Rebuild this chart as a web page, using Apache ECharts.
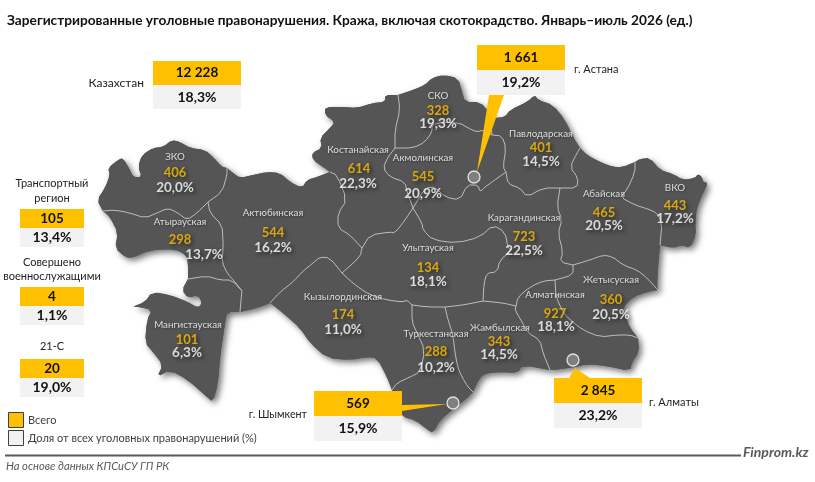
<!DOCTYPE html>
<html><head><meta charset="utf-8">
<style>html,body{margin:0;padding:0;background:#fff}#c{width:815px;height:482px}</style>
<script src="https://cdn.jsdelivr.net/npm/echarts@6/dist/echarts.min.js"></script>
</head><body><div id="c"></div>
<script>
// ---------- data ----------
const regionNames = ['ЗКО','Атырауская','Актюбинская','Костанайская','СКО','Акмолинская','Павлодарская','Абайская','ВКО','Карагандинская','Улытауская','Кызылординская','Мангистауская','Туркестанская','Жамбылская','Алматинская','Жетысуская'];
const regionTotals = [406,298,544,614,328,545,401,465,443,723,134,174,101,288,343,927,360];
const regionShares = [20.0,13.7,16.2,22.3,19.3,20.9,14.5,20.5,17.2,22.5,18.1,11.0,6.3,10.2,14.5,18.1,20.5];
const tileNames = ['Казахстан','г. Астана','г. Шымкент','г. Алматы','Транспортный регион','Совершено военнослужащими','21-С'];
const tileTotals = [12228,1661,569,2845,105,4,20];
const tileShares = [18.3,19.2,15.9,23.2,13.4,1.1,19.0];
const legendLabels = ['Всего','Доля от всех уголовных правонарушений (%)'];
const titleText = 'Зарегистрированные уголовные правонарушения. Кража, включая скотокрадство. Январь–июль 2026 (ед.)';
const sourceText = 'На основе данных КПСиСУ ГП РК';
const brandText = 'Finprom.kz';

// ---------- map outline (shared arcs of the region borders) ----------
const arcsRaw = {
 oZko:[[103,211],[97,200],[105,188],[110,175],[108,168],[118,160],[123,158],[130,170],[133,177],[142,177],[138,167],[142,155],[153,148],[163,147],[172,140],[180,142],[190,148],[205,150],[213,157],[222,167],[227,168]],
 oAkt:[[227,168],[233,173],[240,178],[253,175],[267,172],[280,173],[290,182],[302,188],[307,180],[317,177],[330,172]],
 oKos:[[330,172],[323,167],[313,160],[312,153],[322,148],[320,138],[330,128],[335,122],[325,115],[325,107],[343,107],[357,108],[373,103],[385,102],[385,95],[398,95]],
 oSko:[[398,95],[413,90],[425,85],[432,78],[443,75],[458,78],[462,92],[465,102],[480,102],[490,113],[495,118]],
 oPav:[[495,118],[505,117],[510,110],[527,102],[535,95],[538,100],[553,105],[565,120],[573,137],[580,148]],
 oAbaN:[[580,148],[587,155],[600,162],[613,167],[623,167],[635,162]],
 oVko:[[635,162],[640,159],[650,158],[660,170],[673,174],[683,180],[695,178],[698,174],[702,177],[703,182],[708,183],[703,193],[697,207],[695,222],[696,235],[690,248],[682,245],[673,248],[660,245]],
 oAbaE:[[660,245],[658,267],[657,285],[658,290]],
 oZhe:[[658,290],[647,292],[633,297],[623,307],[625,315],[630,328],[638,338]],
 oAlm:[[638,338],[639,352],[632,362],[630,371],[607,366],[587,364],[575,367],[553,370],[550,370]],
 oZha:[[550,370],[523,365],[517,373],[503,372],[487,373],[480,377],[473,392]],
 oTur:[[473,392],[465,400],[452,410],[440,420],[433,433],[428,430],[415,420],[403,417],[395,405],[392,390]],
 oKyz:[[392,390],[387,377],[377,358],[367,357],[350,360],[327,358],[310,343],[300,328],[283,313],[273,305],[270,303]],
 oAktS:[[270,303],[257,308],[240,312]],
 oMan:[[240,312],[227,312],[225,323],[220,357],[218,383],[213,402],[207,397],[188,380],[170,370],[157,377],[163,365],[153,352],[145,343],[147,320],[152,310],[140,307],[132,307],[145,302],[152,292],[170,295],[188,302],[198,308],[202,303],[198,295],[188,298],[182,290],[188,279]],
 oAty:[[188,279],[188,262],[186,255],[175,249],[150,250],[132,258],[125,257],[115,248],[118,233],[110,217],[103,211]],
 zAty:[[103,211],[115,210],[130,213],[145,218],[157,213],[168,208],[178,213],[187,220],[197,213],[208,202]],
 zAkt:[[208,202],[222,192],[227,175],[227,168]],
 atyAkt:[[208,202],[210,213],[222,225],[223,240],[223,250],[222,262],[227,273],[235,282],[242,291]],
 atyMan:[[188,279],[207,276],[220,280],[232,280],[242,291]],
 manAkt:[[242,291],[241,300],[240,312]],
 aktKyz:[[270,303],[280,292],[293,282],[302,272],[313,263],[320,257],[330,258],[342,273]],
 aktUly:[[342,273],[360,257],[362,248]],
 aktKos:[[330,172],[337,175],[347,200],[338,213],[338,228],[350,235],[362,248]],
 kosUly:[[362,248],[370,235],[390,232],[395,233],[405,220],[413,208]],
 kosAkm:[[413,208],[407,192],[405,182],[390,177],[383,168],[388,157],[395,148]],
 kosSko:[[395,148],[395,130],[400,110],[398,95]],
 skoAkm:[[395,148],[413,148],[425,142],[432,132],[432,125],[443,122],[460,123],[468,128],[477,132],[483,130],[492,135]],
 skoPav:[[492,135],[491,125],[495,118]],
 akmPav:[[492,135],[502,136],[506,148],[503,167],[506,172]],
 akmKar:[[506,172],[492,182],[485,187],[480,192],[478,185],[467,185],[460,200],[445,197],[435,187],[425,188],[413,208]],
 ulyKar:[[413,208],[422,223],[423,230],[433,240],[457,243],[480,237],[493,225],[505,232],[508,248],[512,250],[500,260],[497,272],[487,273],[484,283],[483,301]],
 ulyKyz:[[342,273],[355,285],[370,295],[387,300],[403,302],[407,300],[412,305]],
 ulyTur:[[412,305],[428,307],[445,307]],
 ulyZha:[[445,307],[463,305],[483,301]],
 kyzTur:[[412,305],[412,322],[417,333],[425,350],[420,372],[410,377],[397,383],[392,390]],
 turZha:[[445,307],[448,320],[453,335],[455,353],[458,368],[462,377],[468,387],[473,392]],
 zhaKar:[[483,301],[503,303],[516,306]],
 zhaAlm:[[516,306],[515,310],[522,322],[528,333],[540,340],[543,353],[550,370]],
 almKar:[[516,306],[518,297],[530,287],[543,281],[555,280]],
 almZhe:[[555,280],[556,297],[563,312],[570,320],[583,330],[600,337],[617,335],[630,335],[638,338]],
 zheKar:[[555,280],[573,275],[573,265]],
 zheAba:[[573,265],[590,260],[603,255],[613,257],[623,265],[637,270],[647,278],[658,290]],
 abaKar:[[573,265],[560,262],[563,252],[558,233],[562,220],[557,207],[560,188]],
 pavKar:[[506,172],[508,184],[520,188],[527,197],[543,188],[560,188]],
 pavAba:[[560,188],[577,188],[578,178],[570,167],[577,153],[580,148]],
 abaVko:[[635,162],[635,172],[627,190],[620,197],[635,205],[648,209],[657,213],[662,223],[660,245]]
};
const regionArcs = {
 'ЗКО':['oZko','-zAkt','-zAty'],
 'Актюбинская':['oAkt','aktKos','-aktUly','-aktKyz','oAktS','-manAkt','-atyAkt','zAkt'],
 'Атырауская':['zAty','atyAkt','-atyMan','oAty'],
 'Мангистауская':['atyMan','manAkt','oMan'],
 'Костанайская':['oKos','-kosSko','-kosAkm','-kosUly','-aktKos'],
 'СКО':['oSko','-skoPav','-skoAkm','kosSko'],
 'Акмолинская':['skoAkm','akmPav','akmKar','kosAkm'],
 'Павлодарская':['oPav','-pavAba','-pavKar','-akmPav','skoPav'],
 'Абайская':['oAbaN','abaVko','oAbaE','-zheAba','abaKar','pavAba'],
 'ВКО':['oVko','-abaVko'],
 'Карагандинская':['pavKar','-abaKar','-zheKar','-almKar','-zhaKar','-ulyKar','-akmKar'],
 'Улытауская':['kosUly','ulyKar','-ulyZha','-ulyTur','-ulyKyz','aktUly'],
 'Кызылординская':['aktKyz','ulyKyz','kyzTur','oKyz'],
 'Туркестанская':['ulyTur','turZha','oTur','-kyzTur'],
 'Жамбылская':['ulyZha','zhaKar','zhaAlm','oZha','-turZha'],
 'Алматинская':['almKar','almZhe','oAlm','-zhaAlm'],
 'Жетысуская':['zheKar','zheAba','oZhe','-almZhe']
};

// ---------- layout (label anchors, tiles) ----------
const labelAnchors = { // name, total, share
 'ЗКО':[[175,157],[175,173],[175,188]],
 'Атырауская':[[180,222],[180,240],[204,255]],
 'Актюбинская':[[273,213],[273,233],[273,248]],
 'Костанайская':[[358,150],[359,169],[358,184]],
 'СКО':[[438,96],[438,111],[438,124]],
 'Акмолинская':[[423,158],[423,177],[423,194]],
 'Павлодарская':[[541,134],[541,148],[541,162]],
 'Абайская':[[604,194],[604,213],[604,226]],
 'ВКО':[[675,188],[675,206],[675,219]],
 'Карагандинская':[[524,218],[524,237],[524,251]],
 'Улытауская':[[428,248],[428,268],[428,282]],
 'Кызылординская':[[343,297],[343,315],[343,330]],
 'Мангистауская':[[188,325],[187,340],[187,353]],
 'Туркестанская':[[436,334],[436,352],[436,368]],
 'Жамбылская':[[500,328],[499,342],[499,355]],
 'Алматинская':[[555,295],[555,314],[556,327]],
 'Жетысуская':[[611,280],[611,300],[611,315]]
};
const tileBoxes = [[153,61,88,24,24],[477,45,88,25,25],[314,391,88,25,25],[554,378,88,25,25],[20,209,64,19,19],[20,287,64,19,19],[20,359,64,19,19]];
const cityPoints = [[474,177],[453,403],[573,360]];
const callouts = [[[489,95],[504,95],[477,172]],[[402,405],[447,404],[402,411]],[[569,378],[575,368],[590,378]]];

// ---------- helpers ----------
const FONT = 'Lato, "Noto Sans", sans-serif';
const GOLD='#FFC000', PALE='#F2F2F2', LAND='#555555';
const fmtTotal = v => String(v).replace(/\B(?=(\d{3})+$)/g,' ');
const fmtShare = v => v.toFixed(1).replace('.',',')+'%';
// round the corners of the hand-traced borders, keeping the junction points fixed
const roundCorners = pts => { if(pts.length<3) return pts; const out=[pts[0]];
 for(let i=0;i<pts.length-1;i++){ const a=pts[i],b=pts[i+1];
  if(i>0) out.push([a[0]*.75+b[0]*.25,a[1]*.75+b[1]*.25]);
  if(i<pts.length-2) out.push([a[0]*.25+b[0]*.75,a[1]*.25+b[1]*.75]); }
 out.push(pts[pts.length-1]); return out; };
const arcs = Object.fromEntries(Object.entries(arcsRaw).map(([k,v])=>[k,roundCorners(v)]));
const arcPts = k => k[0]==='-' ? arcs[k.slice(1)].slice().reverse() : arcs[k];
const ring = names => { const r=[]; names.forEach(n=>{ const p=arcPts(n); r.push(...(r.length?p.slice(1):p)); }); return r; };
const geoJson = {type:'FeatureCollection',features:Object.keys(regionArcs).map(n=>({type:'Feature',properties:{name:n},geometry:{type:'Polygon',coordinates:[ring(regionArcs[n])]}}))};
echarts.registerMap('kz', geoJson);
const innerKeys = Object.keys(arcs).filter(k=>!/^o[A-Z]/.test(k));
const flat = {project:p=>p, unproject:p=>p};
const view = {map:'kz',projection:flat,boundingCoords:[[0,0],[815,482]],left:0,top:0,width:815,height:482,roam:false,silent:true};

const txt=(text,x,y,o={})=>({type:'text',z:o.z||50,silent:true,style:{text,x,y,font:(o.bold?'bold ':'')+(o.italic?'italic ':'')+(o.size||12)+'px '+FONT,fill:o.fill||'#262626',textAlign:o.align||'left',textVerticalAlign:'middle'}});
const rect=(x,y,w,h,fill,o={})=>({type:'rect',z:o.z||40,silent:true,shape:{x,y,width:w,height:h},style:{fill,stroke:o.stroke||null,lineWidth:o.lw||0}});

const gfx=[];
callouts.forEach(p=>gfx.push({type:'polygon',z:30,silent:true,shape:{points:p},style:{fill:GOLD}}));
tileBoxes.forEach((b,i)=>{
 const [x,y,w,h1,h2]=b;
 gfx.push(rect(x,y,w,h1,GOLD),rect(x,y+h1,w,h2,PALE));
 gfx.push(txt(fmtTotal(tileTotals[i]),x+w/2,y+h1/2,{bold:true,size:13.5,align:'center',fill:'#111'}));
 gfx.push(txt(fmtShare(tileShares[i]),x+w/2,y+h1+h2/2,{bold:true,size:14,align:'center',fill:'#111'}));
});
const L={size:11,fill:'#222'};
gfx.push(txt(tileNames[0],144,83,{...L,size:12,align:'right'}));
gfx.push(txt(tileNames[1],574,69,L));
gfx.push(txt(tileNames[2],307,415,{...L,size:10.7,align:'right'}));
gfx.push(txt(tileNames[3],649,402,L));
const tn4=tileNames[4].split(' '), tn5=tileNames[5].split(' ');
gfx.push(txt(tn4[0],52,183,{...L,align:'center'}),txt(tn4[1],52,198,{...L,align:'center'}));
gfx.push(txt(tn5[0],52,262,{...L,align:'center'}),txt(tn5[1],52,276,{...L,align:'center'}));
gfx.push(txt(tileNames[6],52,346,{...L,align:'center'}));
gfx.push(txt(titleText,7,21,{bold:true,size:13.7,fill:'#111'}));
gfx.push(rect(8.5,412.5,15,15,GOLD,{stroke:'#404040',lw:1}),rect(8.5,430.5,15,15,PALE,{stroke:'#404040',lw:1}));
gfx.push(txt(legendLabels[0],28,420,{size:11,fill:'#404040'}),txt(legendLabels[1],28,438,{size:11,fill:'#404040'}));
gfx.push(rect(5,454.5,736,2,'#595959'));
gfx.push(txt(sourceText,6,466,{italic:true,size:11.2,fill:'#595959'}));
gfx.push(txt(brandText,743,452,{bold:true,italic:true,size:14,fill:'#595959'}));

const labelShadow={textShadowColor:'rgba(0,0,0,0.75)',textShadowBlur:4,textShadowOffsetX:2,textShadowOffsetY:2};
const labelSeries=(idx,values,fmt,lab)=>({type:'scatter',coordinateSystem:'geo',geoIndex:0,z:20,silent:true,symbolSize:1,itemStyle:{color:'rgba(0,0,0,0)'},
 data:regionNames.map((n,i)=>({name:n,value:[...labelAnchors[n][idx],values[i]]})),
 label:{show:true,position:'inside',formatter:p=>fmt(p.value[2]),fontFamily:FONT,...lab}});

echarts.init(document.getElementById('c'),null,{renderer:'canvas'}).setOption({
 animation:false,backgroundColor:'#fff',
 geo:[{...view,z:1,itemStyle:{areaColor:LAND,borderWidth:0,shadowColor:'rgba(0,0,0,0.55)',shadowBlur:6,shadowOffsetX:3,shadowOffsetY:3}}],
 graphic:gfx,
 series:[
  {type:'map',...view,z:2,data:regionNames.map((n,i)=>({name:n,value:regionTotals[i]})),itemStyle:{areaColor:LAND,borderWidth:0},label:{show:false},emphasis:{disabled:true},select:{disabled:true}},
  {type:'lines',coordinateSystem:'geo',geoIndex:0,polyline:true,z:3,silent:true,data:innerKeys.map(k=>({coords:arcs[k]})),lineStyle:{color:'#bdbdbd',width:1,opacity:1}},
  {type:'scatter',coordinateSystem:'geo',geoIndex:0,z:35,silent:true,symbolSize:12,itemStyle:{color:'#8a8a8a',borderColor:'#fff',borderWidth:1.3},data:cityPoints},
  labelSeries(0,regionNames,v=>v,{fontSize:9.8,color:'#fff',textShadowColor:'rgba(0,0,0,0.5)',textShadowBlur:2,textShadowOffsetX:1,textShadowOffsetY:1}),
  labelSeries(1,regionTotals,fmtTotal,{fontSize:13,fontWeight:'bold',color:GOLD,...labelShadow}),
  labelSeries(2,regionShares,fmtShare,{fontSize:13.5,fontWeight:'bold',color:'#fff',...labelShadow})
 ]
});
</script></body></html>
